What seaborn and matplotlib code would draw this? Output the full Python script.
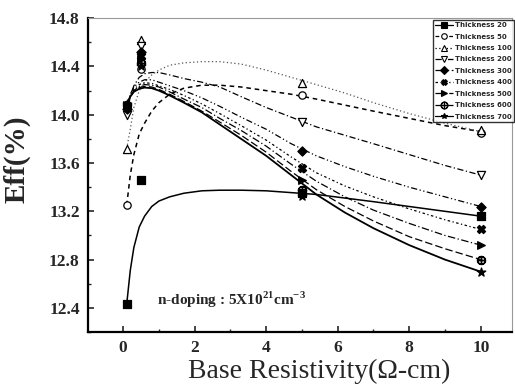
import numpy as np
import pandas as pd
import matplotlib
matplotlib.use("Agg")
import matplotlib.pyplot as plt
from matplotlib.lines import Line2D
from matplotlib.ticker import MultipleLocator
import seaborn as sns

# ---- data ----
thickness = [20, 50, 100, 200, 300, 400, 500, 600, 700]
x_points = [0.1, 0.5, 5, 10]
eff_20 = [12.43, 13.46, 13.35, 13.16]
eff_50 = [13.25, 14.38, 14.16, 13.85]
eff_100 = [13.72, 14.62, 14.26, 13.87]
eff_200 = [14.00, 14.57, 13.94, 13.50]
eff_300 = [14.05, 14.52, 13.70, 13.24]
eff_400 = [14.07, 14.49, 13.56, 13.05]
eff_500 = [14.08, 14.46, 13.46, 12.92]
eff_600 = [14.08, 14.43, 13.38, 12.80]
eff_700 = [14.09, 14.40, 13.33, 12.70]

# smooth fitted curves, read at these resistivities
x_curve = [0.1, 0.2, 0.3, 0.45, 0.6, 0.8, 1.0, 1.3, 1.7, 2.2, 2.7, 3.3,
           4.0, 4.7, 5.4, 6.2, 7.0, 8.0, 9.0, 10.0]
fit_20 = [12.43, 12.71, 12.90, 13.07, 13.16, 13.24, 13.285, 13.32, 13.35, 13.37,
          13.375, 13.375, 13.37, 13.355, 13.34, 13.31, 13.28, 13.24, 13.20, 13.16]
fit_50 = [13.25, 13.50, 13.67, 13.84, 13.93, 14.03, 14.10, 14.17, 14.22, 14.245,
          14.245, 14.23, 14.20, 14.17, 14.13, 14.08, 14.03, 13.97, 13.91, 13.86]
fit_100 = [13.72, 13.88, 14.06, 14.20, 14.27, 14.33, 14.37, 14.41, 14.43, 14.44,
           14.44, 14.42, 14.37, 14.31, 14.25, 14.18, 14.10, 14.01, 13.93, 13.86]
fit_200 = [14.00, 14.15, 14.24, 14.31, 14.34, 14.35, 14.35, 14.33, 14.30, 14.27,
           14.23, 14.15, 14.06, 13.98, 13.90, 13.83, 13.76, 13.67, 13.58, 13.50]
fit_300 = [14.05, 14.17, 14.23, 14.27, 14.29, 14.29, 14.27, 14.24, 14.20, 14.14,
           14.07, 13.98, 13.88, 13.76, 13.66, 13.57, 13.49, 13.40, 13.32, 13.24]
fit_400 = [14.06, 14.16, 14.21, 14.25, 14.265, 14.26, 14.24, 14.21, 14.16, 14.09,
           14.01, 13.91, 13.79, 13.65, 13.52, 13.41, 13.32, 13.22, 13.13, 13.05]
fit_500 = [14.07, 14.15, 14.20, 14.235, 14.25, 14.245, 14.23, 14.19, 14.13, 14.06,
           13.97, 13.87, 13.74, 13.59, 13.45, 13.32, 13.21, 13.10, 13.00, 12.92]
fit_600 = [14.08, 14.15, 14.195, 14.225, 14.235, 14.23, 14.21, 14.17, 14.11, 14.03,
           13.94, 13.83, 13.69, 13.53, 13.38, 13.24, 13.12, 12.99, 12.89, 12.80]
fit_700 = [14.09, 14.15, 14.19, 14.215, 14.225, 14.22, 14.20, 14.16, 14.10, 14.02,
           13.92, 13.80, 13.66, 13.50, 13.34, 13.19, 13.06, 12.92, 12.80, 12.70]

points = [eff_20, eff_50, eff_100, eff_200, eff_300, eff_400, eff_500, eff_600, eff_700]
fits = [fit_20, fit_50, fit_100, fit_200, fit_300, fit_400, fit_500, fit_600, fit_700]

# ---- styles ----
linestyles = ['-', (0, (3, 2.5)), (0, (1, 2)), (0, (5, 2, 1, 2)), (0, (5, 2, 1, 2, 1, 2)),
              (0, (2, 2, 1, 2)), (0, (6, 2, 1, 2)), (0, (6, 2.5)), '-']
line_colors = ['black', 'black', '#555555', 'black', 'black', 'black', 'black', 'black', 'black']
line_widths = [1.1, 1.1, 0.9, 0.9, 0.9, 0.9, 0.9, 0.9, 1.3]
markers = ['s', 'o', '^', 'v', 'D', 'X', '>', r'$\oplus$', '*']
mfaces = ['black', 'white', 'white', 'white', 'black', 'black', 'black', 'black', 'black']
msizes = [28, 28, 34, 34, 22, 34, 30, 34, 42]

sns.set_style("ticks")
plt.rcParams['font.family'] = ['Liberation Serif', 'DejaVu Serif']
plt.rcParams['mathtext.fontset'] = 'custom'
plt.rcParams['mathtext.rm'] = 'Liberation Serif:bold'
plt.rcParams['mathtext.bf'] = 'Liberation Serif:bold'

fig = plt.figure(figsize=(5.15, 3.87), dpi=100)
ax = fig.add_axes([0.171, 0.142, 0.823, 0.811])

for i, t in enumerate(thickness):
    df = pd.DataFrame({'x': x_curve, 'y': fits[i]})
    sns.lineplot(data=df, x='x', y='y', ax=ax, color=line_colors[i],
                 linewidth=line_widths[i], linestyle=linestyles[i], sort=False)
    pdf = pd.DataFrame({'x': x_points, 'y': points[i]})
    if markers[i].startswith('$'):
        ax.scatter(pdf['x'], pdf['y'], marker=markers[i], s=msizes[i],
                   color='black', zorder=5)
    else:
        sns.scatterplot(data=pdf, x='x', y='y', ax=ax, marker=markers[i],
                        s=msizes[i], facecolor=mfaces[i], edgecolor='black',
                        linewidth=0.9, zorder=5)

ax.set_xlim(-0.98, 10.87)
ax.set_ylim(12.2, 14.8)
ax.xaxis.set_major_locator(MultipleLocator(2))
ax.xaxis.set_minor_locator(MultipleLocator(1))
ax.yaxis.set_minor_locator(MultipleLocator(0.2))
ax.set_yticks([12.4, 12.8, 13.2, 13.6, 14.0, 14.4, 14.8])
ax.set_yticklabels(['12.4', '12.8', '13.2', '13.6', '14.0', '14.4', '14.8'])
ax.tick_params(axis='both', which='major', direction='in', length=4, width=1.2,
               labelsize=12.5, pad=6)
ax.tick_params(axis='both', which='minor', direction='in', length=2.5, width=1.0)
for lab in ax.get_xticklabels() + ax.get_yticklabels():
    lab.set_fontweight('bold')

for s in ['left', 'bottom']:
    ax.spines[s].set_linewidth(1.6)
    ax.spines[s].set_color('black')
for s in ['top', 'right']:
    ax.spines[s].set_linewidth(0.8)
    ax.spines[s].set_color('#999999')

ax.set_xlabel('Base Resistivity(\u03a9-cm)', fontsize=20)
ax.xaxis.set_label_coords(0.545, -0.085)
ax.xaxis.label.set_va('top')
ax.set_ylabel('Eff(%)', fontsize=21, fontweight='bold')
ax.yaxis.set_label_coords(-0.135, 0.55)

ax.text(0.95, 12.47, r'n-doping : 5X10$^{21}$cm$^{-3}$', fontsize=11,
        fontweight='bold', ha='left', va='center')

handles = []
for i, t in enumerate(thickness):
    handles.append(Line2D([0], [0], color='black', linewidth=0.9,
                          linestyle=linestyles[i], marker=markers[i],
                          markersize=4 if not markers[i].startswith('$') else 5,
                          markerfacecolor=mfaces[i], markeredgecolor='black',
                          markeredgewidth=0.8))
leg = ax.legend(handles, [f'Thickness {t}' for t in thickness],
                loc='upper right', bbox_to_anchor=(1.005, 0.995),
                prop={'family': 'DejaVu Sans', 'weight': 'bold', 'size': 5},
                frameon=True, fancybox=False, edgecolor='black',
                handlelength=2.6, handletextpad=0.2, labelspacing=0.78,
                borderpad=0.35, borderaxespad=0.0)
leg.get_frame().set_linewidth(1.0)

fig.savefig('out.png', dpi=100)
